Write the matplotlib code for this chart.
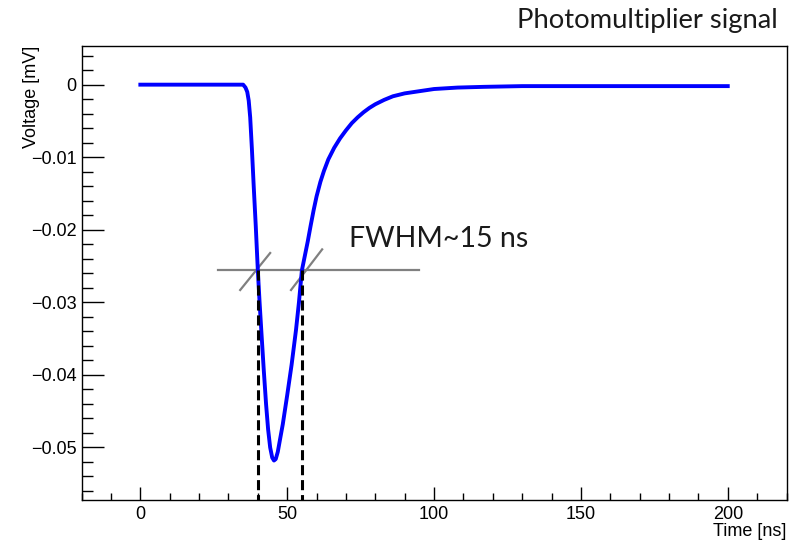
import numpy as np
import matplotlib.pyplot as plt
from matplotlib.ticker import MultipleLocator

# waveform (time in ns, voltage in mV as labelled)
time_ns = [0, 10, 20, 30, 34, 35.0, 35.8, 36.4, 36.9, 37.4, 38.0, 38.6,
           39.3, 40.0, 40.6, 41.2, 42.0, 42.8, 43.5, 44.2, 44.9, 45.5, 46.1,
           46.8, 47.6, 48.5, 50.0, 51.5, 53.0, 54.0, 55.0, 56.0, 57.0, 58.0,
           59.0, 60.0, 61.3, 62.5, 64.0, 66.0, 68.0, 70.0, 72.0, 74.0, 76.0,
           78.0, 80.0, 83.0, 86.0, 90.0, 95.0, 100, 108, 117, 130, 146, 175,
           200]
voltage = [0, 0, 0, 0, 0, 0, -0.0004, -0.0010, -0.0022, -0.0045, -0.0090,
           -0.0140, -0.0195, -0.0256, -0.0300, -0.0340, -0.0392, -0.0440,
           -0.0475, -0.0500, -0.0514, -0.0518, -0.0516, -0.0506, -0.0488,
           -0.0468, -0.0428, -0.0386, -0.0338, -0.0300, -0.0256, -0.0236,
           -0.0216, -0.0194, -0.0173, -0.0154, -0.0134, -0.0119, -0.0103,
           -0.0087, -0.0074, -0.0063, -0.0053, -0.0045, -0.0038, -0.0032,
           -0.0027, -0.0021, -0.0016, -0.0012, -0.0009, -0.0006, -0.0004,
           -0.0003, -0.0002, -0.0002, -0.0002, -0.0002]

# half maximum marker
half_level = -0.0256
half_line_t = [26.5, 95]
fwhm_t = [40, 55]
slash1_t = [34.0, 44.2]
slash1_v = [-0.0283, -0.0232]
slash2_t = [51.3, 61.9]
slash2_v = [-0.0283, -0.0227]

xlim = (-20, 220)
ylim = (-0.05724, 0.00537)
yticks = [0, -0.01, -0.02, -0.03, -0.04, -0.05]
yticklabels = ['0', '\u22120.01', '\u22120.02', '\u22120.03', '\u22120.04', '\u22120.05']
xticks = [0, 50, 100, 150, 200]

W, H = 796, 542
fig = plt.figure(figsize=(W / 100, H / 100), dpi=100)
ax = fig.add_axes([81.6 / W, 1 - 500 / H, (786.5 - 81.6) / W, (500 - 45.7) / H])

ax.plot(time_ns, voltage, color='#0000ff', lw=2.8, solid_joinstyle='round', zorder=3)

ax.plot(half_line_t, [half_level, half_level], color='#808080', lw=1.6, zorder=2)
ax.plot(slash1_t, slash1_v, color='#808080', lw=1.6, zorder=2)
ax.plot(slash2_t, slash2_v, color='#808080', lw=1.6, zorder=2)
for t in fwhm_t:
    ax.plot([t, t], [half_level, ylim[0]], color='black', lw=2.2,
            linestyle=(0, (3.3, 1.6)), zorder=4)

ax.text(71, -0.0224, 'FWHM~15 ns', fontsize=20.5, family='Lato',
        color='#1a1a1a', va='baseline', ha='left')

ax.set_xlim(xlim)
ax.set_ylim(ylim)
ax.set_xticks(xticks)
ax.set_xticklabels([str(v) for v in xticks])
ax.set_yticks(yticks)
ax.set_yticklabels(yticklabels)
ax.xaxis.set_minor_locator(MultipleLocator(10))
ax.yaxis.set_minor_locator(MultipleLocator(0.002))

ax.tick_params(axis='both', which='both', direction='in', labelsize=13,
               colors='black', width=1.0)
ax.tick_params(axis='y', which='major', length=15.8, pad=3.7)
ax.tick_params(axis='y', which='minor', length=7.9)
ax.tick_params(axis='x', which='major', length=9.4, pad=4.5)
ax.tick_params(axis='x', which='minor', length=5)
for lab in ax.get_xticklabels() + ax.get_yticklabels():
    lab.set_family('Liberation Sans')

for s in ax.spines.values():
    s.set_linewidth(1.0)
    s.set_color('black')

fig.text(32 / W, 1 - 45.7 / H, 'Voltage [mV]', rotation=90, ha='center', va='top',
         fontsize=13, family='Liberation Sans')
fig.text(786.7 / W, 1 - 532 / H, 'Time [ns]', ha='right', va='center',
         fontsize=13, family='Liberation Sans')
fig.text(778 / W, 1 - 28 / H, 'Photomultiplier signal', ha='right', va='baseline',
         fontsize=19.7, family='Lato', color='#1a1a1a')

fig.savefig('out.png', dpi=100)
